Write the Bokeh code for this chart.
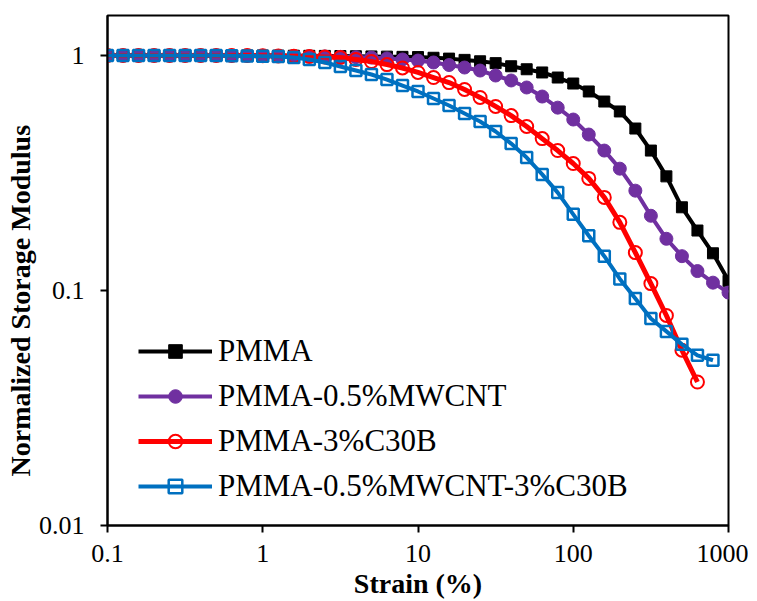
import numpy as np
from bokeh.plotting import figure
from bokeh.models import (Range1d, FixedTicker, CustomJSTickFormatter, Legend, LegendItem, Title)
from bokeh.embed import file_html
from bokeh.resources import INLINE

# strain (%) grid: 10 points per decade from 0.1 to 1000
strain = [round(10 ** (-1 + k / 10), 6) for k in range(41)]

pmma = [1.0, 1.0, 1.0, 1.0, 1.0, 1.0, 1.0, 1.0, 1.0, 1.0,
        1.0, 0.999, 0.998, 0.997, 0.996, 0.995, 0.993, 0.991, 0.989, 0.987,
        0.985, 0.978, 0.970, 0.958, 0.945, 0.928, 0.900, 0.874, 0.847, 0.806,
        0.760, 0.703, 0.637, 0.578, 0.489, 0.394, 0.306, 0.226, 0.180, 0.144,
        0.110]

mwcnt = [1.0, 1.0, 1.0, 1.0, 1.0, 1.0, 1.0, 1.0, 1.0, 1.0,
         0.998, 0.996, 0.994, 0.992, 0.990, 0.987, 0.984, 0.980, 0.972, 0.962,
         0.952, 0.934, 0.911, 0.889, 0.863, 0.822, 0.783, 0.731, 0.669, 0.600,
         0.534, 0.461, 0.394, 0.330, 0.266, 0.208, 0.166, 0.140, 0.121, 0.108,
         0.098]

c30b_strain = strain[:39]
c30b = [1.0, 1.0, 1.0, 1.0, 1.0, 1.0, 1.0, 1.0, 1.0, 1.0,
        0.997, 0.995, 0.993, 0.990, 0.986, 0.981, 0.962, 0.943, 0.915, 0.885,
        0.847, 0.806, 0.767, 0.717, 0.663, 0.607, 0.555, 0.499, 0.443, 0.394,
        0.347, 0.300, 0.249, 0.195, 0.145, 0.107, 0.0783, 0.0557, 0.0408]

hybrid_strain = strain[:40]
hybrid = [1.0, 1.0, 1.0, 1.0, 1.0, 1.0, 1.0, 1.0, 0.998, 0.996,
          0.993, 0.990, 0.981, 0.962, 0.934, 0.898, 0.863, 0.830, 0.790, 0.745,
          0.703, 0.656, 0.613, 0.566, 0.524, 0.475, 0.422, 0.368, 0.312, 0.261,
          0.211, 0.171, 0.140, 0.112, 0.0925, 0.0760, 0.0670, 0.0590, 0.0530, 0.0505]

x_ticks = [0.1, 1, 10, 100, 1000]
y_ticks = [0.01, 0.1, 1]
labels = ["PMMA", "PMMA-0.5%MWCNT", "PMMA-3%C30B", "PMMA-0.5%MWCNT-3%C30B"]
x_title = "Strain (%)"
y_title = "Normalized Storage Modulus"

FONT = "Liberation Serif"

p = figure(frame_width=621, frame_height=510, x_axis_type="log", y_axis_type="log",
           x_range=Range1d(0.1, 1000), y_range=Range1d(0.01, 1.48),
           output_backend="svg", toolbar_location=None,
           min_border_left=107, min_border_right=20, min_border_top=15, min_border_bottom=70)

p.grid.visible = False
p.outline_line_color = "black"
p.outline_line_width = 2
p.background_fill_color = "white"
p.border_fill_color = "white"

fmt = CustomJSTickFormatter(code="return String(tick);")
for ax, ticks in ((p.xaxis[0], x_ticks), (p.yaxis[0], y_ticks)):
    ax.ticker = FixedTicker(ticks=ticks, minor_ticks=[])
    ax.formatter = fmt
    ax.axis_line_width = 2
    ax.major_tick_line_width = 2
    ax.major_tick_in = 0
    ax.major_tick_out = 7
    ax.minor_tick_line_color = None
    ax.major_label_text_font = FONT
    ax.major_label_text_font_size = "26px"
    ax.major_label_text_color = "black"
    ax.axis_label_text_font = FONT
    ax.axis_label_text_font_style = "bold"
    ax.axis_label_text_font_size = "28px"
    ax.axis_label_text_color = "black"

p.xaxis.axis_label = x_title
p.xaxis.major_label_standoff = 12
p.xaxis.axis_label_standoff = 3
p.yaxis.major_label_standoff = 16

# y-axis title as a vertical side title, shifted slightly below the frame centre
ytitle = Title(text=y_title, align="left", offset=49, standoff=0,
               text_font=FONT, text_font_style="bold", text_font_size="28px",
               text_color="black")
p.add_layout(ytitle, "left")

items = []
# PMMA
l1 = p.line(strain, pmma, line_color="black", line_width=4, line_join="round")
s1 = p.scatter(strain, pmma, marker="square", size=11, fill_color="black", line_color="black")
items.append(LegendItem(label=labels[0], renderers=[l1, s1]))
# PMMA-0.5%MWCNT
l2 = p.line(strain, mwcnt, line_color="#7030A0", line_width=4, line_join="round")
s2 = p.scatter(strain, mwcnt, marker="circle", size=13, fill_color="#7030A0", line_color="#7030A0")
items.append(LegendItem(label=labels[1], renderers=[l2, s2]))
# PMMA-3%C30B
l3 = p.line(c30b_strain, c30b, line_color="#FF0000", line_width=5, line_join="round")
s3 = p.scatter(c30b_strain, c30b, marker="circle", size=13, fill_color=None,
               line_color="#FF0000", line_width=2)
items.append(LegendItem(label=labels[2], renderers=[l3, s3]))
# PMMA-0.5%MWCNT-3%C30B
l4 = p.line(hybrid_strain, hybrid, line_color="#0070C0", line_width=4, line_join="round")
s4 = p.scatter(hybrid_strain, hybrid, marker="square", size=11, fill_color=None,
               line_color="#0070C0", line_width=2.5)
items.append(LegendItem(label=labels[3], renderers=[l4, s4]))

legend = Legend(items=items, location=(31, 21), orientation="vertical",
                glyph_width=74, glyph_height=34, label_height=34, spacing=9,
                label_standoff=6, padding=0, margin=0,
                border_line_color=None, background_fill_alpha=0,
                label_text_font=FONT, label_text_font_size="31px",
                label_text_color="black")
p.add_layout(legend, "center")

open("out.html", "w").write(file_html(p, INLINE))
